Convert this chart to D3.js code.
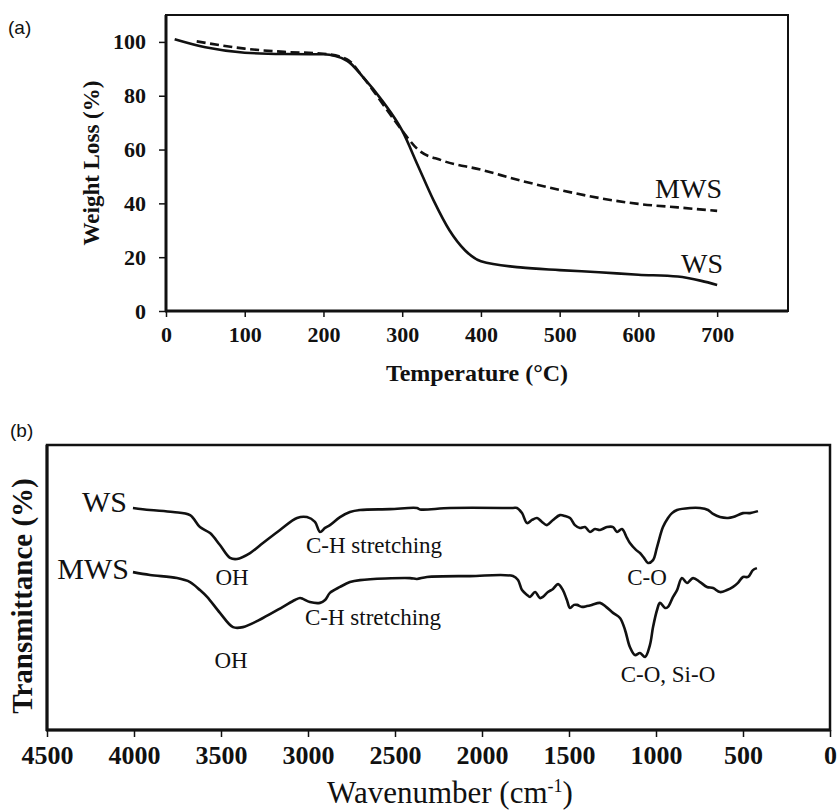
<!DOCTYPE html>
<html>
<head>
<meta charset="utf-8">
<script src="https://cdn.jsdelivr.net/npm/d3@7"></script>
<style>
  body { margin: 0; background: #fff; }
  text { font-family: "Liberation Serif", "Times New Roman", serif; fill: #111; }
  .domain { display: none; }
</style>
</head>
<body>
<div id="chart"></div>
<script>
// ---- panel (a) TGA ----
const tempTicks = [0, 100, 200, 300, 400, 500, 600, 700]
const weightTicks = [0, 20, 40, 60, 80, 100]

const wsTemp   = [11, 50, 100, 150, 200, 230, 250, 275, 300, 320, 340, 360, 380, 400, 450, 500, 550, 600, 650, 680, 700]
const wsWeight = [101, 98, 96, 95.5, 95.4, 93, 87, 78, 67, 54, 41, 30, 22.5, 18.5, 16.2, 15.2, 14.4, 13.5, 12.8, 11.2, 9.7]

const mwsTemp   = [39, 100, 150, 200, 230, 250, 280, 300, 320, 350, 400, 450, 500, 550, 600, 650, 700]
const mwsWeight = [100.2, 97.5, 96.3, 95.6, 93.5, 87, 75, 67, 60, 56, 52.5, 48.5, 45, 42, 39.8, 38.5, 37.2]

// ---- panel (b) FTIR (transmittance in arbitrary units) ----
const waveTicks = [4500, 4000, 3500, 3000, 2500, 2000, 1500, 1000, 500, 0]

const wsWave  = [4006, 3908, 3776, 3678, 3621, 3563, 3506, 3448, 3408, 3333, 3259, 3161, 3063, 3006, 2960, 2931, 2902, 2874, 2816, 2759, 2701, 2529, 2374, 2356, 2184, 1822, 1799, 1770, 1741, 1713, 1684, 1655, 1627, 1592, 1552, 1523, 1494, 1466, 1437, 1408, 1379, 1351, 1322, 1282, 1247, 1224, 1196, 1167, 1150, 1115, 1092, 1069, 1046, 1017, 994, 960, 931, 908, 879, 805, 747, 701, 672, 632, 586, 557, 500, 460, 414]
const wsTrans = [77.9, 77.2, 76.5, 75.4, 71.2, 69.1, 64.9, 60.4, 60.0, 62.1, 65.6, 70.2, 74.4, 74.7, 73.0, 69.5, 70.9, 71.9, 74.7, 76.5, 77.2, 77.5, 77.9, 77.4, 77.9, 77.9, 77.9, 76.1, 72.6, 73.7, 74.4, 73.0, 71.9, 73.7, 75.4, 75.1, 74.4, 71.9, 70.9, 71.2, 69.5, 70.5, 70.2, 71.2, 71.2, 69.5, 70.5, 67.4, 65.6, 63.2, 62.1, 60.4, 58.6, 59.6, 64.2, 71.2, 74.4, 76.1, 77.2, 77.9, 77.9, 77.2, 75.8, 74.7, 74.4, 74.7, 76.1, 76.1, 76.8]

const mwsWave  = [4006, 3908, 3753, 3678, 3621, 3580, 3506, 3431, 3374, 3259, 3144, 3075, 3046, 3029, 2989, 2931, 2902, 2874, 2816, 2759, 2701, 2414, 2374, 2316, 2069, 1822, 1793, 1770, 1741, 1724, 1695, 1667, 1650, 1621, 1592, 1563, 1535, 1512, 1494, 1471, 1454, 1425, 1397, 1368, 1322, 1287, 1247, 1207, 1178, 1150, 1121, 1092, 1063, 1035, 1017, 994, 977, 948, 931, 902, 879, 851, 822, 787, 747, 707, 672, 632, 592, 557, 529, 500, 471, 443, 420]
const mwsTrans = [55.4, 54.4, 53.3, 51.9, 49.1, 46.7, 41.1, 36.1, 36.1, 39.3, 43.2, 45.6, 46.3, 46.0, 44.9, 44.6, 45.6, 48.1, 50.2, 51.9, 52.6, 53.3, 53.0, 53.7, 54.0, 54.0, 52.6, 49.1, 47.4, 46.7, 48.4, 46.3, 46.7, 48.4, 49.5, 51.2, 49.1, 45.6, 42.8, 43.9, 43.9, 43.2, 43.5, 43.9, 44.6, 43.2, 41.1, 39.3, 35.1, 29.1, 26.3, 27.0, 25.6, 29.8, 36.1, 42.1, 44.6, 42.8, 43.2, 46.7, 49.1, 53.3, 51.6, 53.3, 51.9, 50.2, 49.8, 48.4, 49.1, 50.2, 51.6, 53.7, 53.7, 56.1, 56.8]

const W = 838, H = 811

const svg = d3.select('#chart')
.append('svg')
.attr('width', W)
.attr('height', H)

// ================= (a) =================
const boxA = {left: 166, right: 788, top: 15, bottom: 311}

const xA = d3.scaleLinear().domain([0, 790]).range([boxA.left, boxA.right])
const yA = d3.scaleLinear().domain([0, 110]).range([boxA.bottom, boxA.top])

const gA = svg.append('g')

gA.append('rect')
.attr('x', boxA.left).attr('y', boxA.top)
.attr('width', boxA.right - boxA.left).attr('height', boxA.bottom - boxA.top)
.attr('fill', 'none').attr('stroke', '#111').attr('stroke-width', 2)

gA.append('g')
.attr('transform', `translate(0,${boxA.bottom})`)
.call(d3.axisBottom(xA).tickValues(tempTicks).tickSize(6).tickSizeOuter(0).tickPadding(9))
.call(g => g.selectAll('text').attr('font-size', 22).attr('font-weight', 'bold'))

gA.append('g')
.attr('transform', `translate(${boxA.left},0)`)
.call(d3.axisLeft(yA).tickValues(weightTicks).tickSize(7).tickSizeOuter(0).tickPadding(13))
.call(g => g.selectAll('text').attr('font-size', 22).attr('font-weight', 'bold'))

svg.selectAll('.tick line').attr('stroke', '#111').attr('stroke-width', 1.5)

// thicker left/bottom axis lines
gA.append('line').attr('x1', boxA.left).attr('x2', boxA.left).attr('y1', boxA.top).attr('y2', boxA.bottom + 1)
.attr('stroke', '#111').attr('stroke-width', 3)
gA.append('line').attr('x1', boxA.left - 1).attr('x2', boxA.right).attr('y1', boxA.bottom).attr('y2', boxA.bottom)
.attr('stroke', '#111').attr('stroke-width', 3)

const lineA = d3.line().curve(d3.curveMonotoneX)

gA.append('path')
.attr('d', lineA(wsTemp.map((t, i) => [xA(t), yA(wsWeight[i])])))
.attr('fill', 'none').attr('stroke', '#111').attr('stroke-width', 2.6)

gA.append('path')
.attr('d', lineA(mwsTemp.map((t, i) => [xA(t), yA(mwsWeight[i])])))
.attr('fill', 'none').attr('stroke', '#111').attr('stroke-width', 2.6)
.attr('stroke-dasharray', '9,4.5')

gA.append('text').attr('x', 722).attr('y', 198).attr('text-anchor', 'end')
.attr('font-size', 28).text('MWS')
gA.append('text').attr('x', 723).attr('y', 273).attr('text-anchor', 'end')
.attr('font-size', 28).text('WS')

gA.append('text')
.attr('transform', `translate(99,${(boxA.top + boxA.bottom) / 2}) rotate(-90)`)
.attr('text-anchor', 'middle').attr('font-size', 23).attr('font-weight', 'bold')
.text('Weight Loss (%)')

gA.append('text')
.attr('x', (boxA.left + boxA.right) / 2).attr('y', 381)
.attr('text-anchor', 'middle').attr('font-size', 24).attr('font-weight', 'bold')
.text('Temperature (°C)')

svg.append('text').attr('x', 8).attr('y', 34)
.style('font-family', '"Liberation Sans", Arial, sans-serif')
.attr('font-size', 19).text('(a)')

// ================= (b) =================
const boxB = {left: 47, right: 830, top: 445, bottom: 730}

const xB = d3.scaleLinear().domain([4500, 0]).range([boxB.left, boxB.right])
const yB = d3.scaleLinear().domain([0, 100]).range([boxB.bottom, boxB.top])

const gB = svg.append('g')

gB.append('rect')
.attr('x', boxB.left).attr('y', boxB.top)
.attr('width', boxB.right - boxB.left).attr('height', boxB.bottom - boxB.top)
.attr('fill', 'none').attr('stroke', '#111').attr('stroke-width', 2.5)

gB.append('g')
.attr('transform', `translate(0,${boxB.bottom})`)
.call(d3.axisBottom(xB).tickValues(waveTicks).tickFormat(d3.format('d'))
  .tickSize(7).tickSizeOuter(0).tickPadding(9))
.call(g => g.selectAll('text').attr('font-size', 26).attr('font-weight', 'bold'))
.call(g => g.selectAll('.tick line').attr('stroke', '#111').attr('stroke-width', 1.5))

gB.append('line').attr('x1', boxB.left).attr('x2', boxB.left).attr('y1', boxB.top).attr('y2', boxB.bottom + 1)
.attr('stroke', '#111').attr('stroke-width', 3)
gB.append('line').attr('x1', boxB.left - 1).attr('x2', boxB.right).attr('y1', boxB.bottom).attr('y2', boxB.bottom)
.attr('stroke', '#111').attr('stroke-width', 3)

const lineB = d3.line().curve(d3.curveCatmullRom.alpha(0.5))

gB.append('path')
.attr('d', lineB(wsWave.map((w, i) => [xB(w), yB(wsTrans[i])])))
.attr('fill', 'none').attr('stroke', '#111').attr('stroke-width', 2.6).attr('stroke-linejoin', 'round')

gB.append('path')
.attr('d', lineB(mwsWave.map((w, i) => [xB(w), yB(mwsTrans[i])])))
.attr('fill', 'none').attr('stroke', '#111').attr('stroke-width', 2.6).attr('stroke-linejoin', 'round')

// series names + band annotations
gB.append('text').attr('x', 127).attr('y', 512).attr('text-anchor', 'end').attr('font-size', 30).text('WS')
gB.append('text').attr('x', 129).attr('y', 579).attr('text-anchor', 'end').attr('font-size', 30).text('MWS')

const notes = [
  {t: 'OH', x: 232, y: 585, a: 'middle'},
  {t: 'C-H stretching', x: 306, y: 553, a: 'start'},
  {t: 'C-O', x: 647, y: 585, a: 'middle'},
  {t: 'OH', x: 231, y: 668, a: 'middle'},
  {t: 'C-H stretching', x: 305, y: 625, a: 'start'},
  {t: 'C-O, Si-O', x: 668, y: 682, a: 'middle'}
]
gB.selectAll('.note').data(notes).enter().append('text')
.attr('class', 'note')
.attr('x', d => d.x).attr('y', d => d.y)
.attr('text-anchor', d => d.a).attr('font-size', 23)
.text(d => d.t)

gB.append('text')
.attr('transform', `translate(32,596) rotate(-90)`)
.attr('text-anchor', 'middle').attr('font-size', 29).attr('font-weight', 'bold')
.text('Transmittance (%)')

const wl = gB.append('text')
.attr('x', 450).attr('y', 803)
.attr('text-anchor', 'middle').attr('font-size', 31)
wl.append('tspan').text('Wavenumber (cm')
wl.append('tspan').attr('dy', -11).attr('font-size', 18).text('-1')
wl.append('tspan').attr('dy', 11).text(')')

svg.append('text').attr('x', 10).attr('y', 437)
.style('font-family', '"Liberation Sans", Arial, sans-serif')
.attr('font-size', 19).text('(b)')
</script>
</body>
</html>
